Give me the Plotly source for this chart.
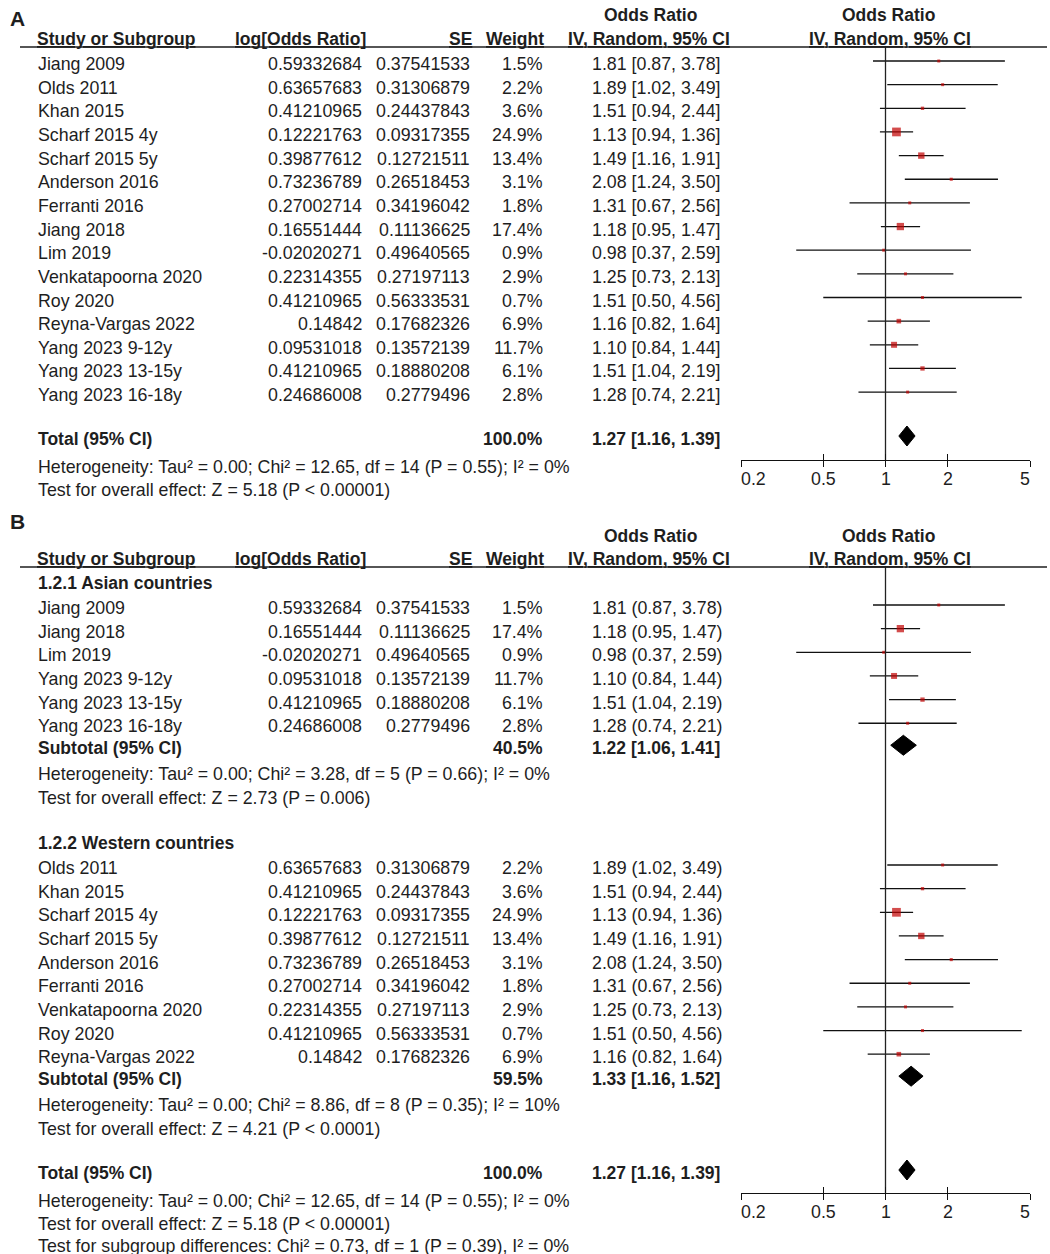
import math
import plotly.graph_objects as go

W, H = 1050, 1254
FONT = "Liberation Sans, Arial, sans-serif"
TXT = "#1e1e1e"
RED = "#C00000"
FS = 17.8

# ---------------- data ----------------
study = ["Jiang 2009", "Olds 2011", "Khan 2015", "Scharf 2015 4y", "Scharf 2015 5y",
         "Anderson 2016", "Ferranti 2016", "Jiang 2018", "Lim 2019", "Venkatapoorna 2020",
         "Roy 2020", "Reyna-Vargas 2022", "Yang 2023 9-12y", "Yang 2023 13-15y", "Yang 2023 16-18y"]
region = ["Asian", "Western", "Western", "Western", "Western",
          "Western", "Western", "Asian", "Asian", "Western",
          "Western", "Western", "Asian", "Asian", "Asian"]
log_or = ["0.59332684", "0.63657683", "0.41210965", "0.12221763", "0.39877612",
          "0.73236789", "0.27002714", "0.16551444", "-0.02020271", "0.22314355",
          "0.41210965", "0.14842", "0.09531018", "0.41210965", "0.24686008"]
se = ["0.37541533", "0.31306879", "0.24437843", "0.09317355", "0.12721511",
      "0.26518453", "0.34196042", "0.11136625", "0.49640565", "0.27197113",
      "0.56333531", "0.17682326", "0.13572139", "0.18880208", "0.2779496"]
weight = [1.5, 2.2, 3.6, 24.9, 13.4, 3.1, 1.8, 17.4, 0.9, 2.9, 0.7, 6.9, 11.7, 6.1, 2.8]
odds = [1.81, 1.89, 1.51, 1.13, 1.49, 2.08, 1.31, 1.18, 0.98, 1.25, 1.51, 1.16, 1.10, 1.51, 1.28]
ci_lo = [0.87, 1.02, 0.94, 0.94, 1.16, 1.24, 0.67, 0.95, 0.37, 0.73, 0.50, 0.82, 0.84, 1.04, 0.74]
ci_hi = [3.78, 3.49, 2.44, 1.36, 1.91, 3.50, 2.56, 1.47, 2.59, 2.13, 4.56, 1.64, 1.44, 2.19, 2.21]

groups = ["Asian", "Western"]
group_titles = ["1.2.1 Asian countries", "1.2.2 Western countries"]
group_weight = ["40.5%", "59.5%"]
group_or = [1.22, 1.33]
group_lo = [1.06, 1.16]
group_hi = [1.41, 1.52]
group_het = ["Heterogeneity: Tau² = 0.00; Chi² = 3.28, df = 5 (P = 0.66); I² = 0%",
             "Heterogeneity: Tau² = 0.00; Chi² = 8.86, df = 8 (P = 0.35); I² = 10%"]
group_test = ["Test for overall effect: Z = 2.73 (P = 0.006)",
              "Test for overall effect: Z = 4.21 (P < 0.0001)"]

total_or, total_lo, total_hi = 1.27, 1.16, 1.39
total_weight = "100.0%"
total_het = "Heterogeneity: Tau² = 0.00; Chi² = 12.65, df = 14 (P = 0.55); I² = 0%"
total_test = "Test for overall effect: Z = 5.18 (P < 0.00001)"
subgroup_test = "Test for subgroup differences: Chi² = 0.73, df = 1 (P = 0.39), I² = 0%"

tick_vals = [0.2, 0.5, 1, 2, 5]
tick_text = ["0.2", "0.5", "1", "2", "5"]

# ---------------- layout helpers ----------------
X_NAME = 38
X_LOGOR = 362
X_SE = 470
X_W = 543
X_CI = 592
AX_L, AX_R = 741, 1030
ROW = 23.65
MARK_DY = -3

fig = go.Figure()
ann = []
shapes = []


def txt(x, y, s, anchor="left", bold=False, size=FS, under=False):
    if under:
        s = "<u>" + s + "</u>"
    if bold:
        s = "<b>" + s + "</b>"
    ann.append(dict(x=x / W, xref="paper", y=y, yref="y", text=s, showarrow=False,
                    xanchor=anchor, yanchor="middle", borderpad=0, borderwidth=0,
                    font=dict(family=FONT, size=size, color=TXT)))


def header(y1, y2):
    txt(650, y1, "Odds Ratio", "center", bold=True, size=17.5)
    txt(888, y1, "Odds Ratio", "center", bold=True, size=17.5)
    txt(37, y2, "Study or Subgroup", "left", True, size=17.5, under=True)
    txt(366, y2, "log[Odds Ratio]", "right", True, size=17.5, under=True)
    txt(472, y2, "SE", "right", True, size=17.5, under=True)
    txt(544, y2, "Weight", "right", True, size=17.5, under=True)
    txt(649, y2, "IV, Random, 95% CI", "center", True, size=17.5, under=True)
    txt(890, y2, "IV, Random, 95% CI", "center", True, size=17.5, under=True)
    shapes.append(dict(type="line", xref="paper", yref="y", x0=20 / W, x1=1047 / W,
                       y0=y2 + 8, y1=y2 + 8, line=dict(color=TXT, width=1.6)))


def study_rows(idx, y0, paren):
    xs, ys = [], []
    for k, i in enumerate(idx):
        y = y0 + k * ROW
        txt(X_NAME, y, study[i])
        txt(X_LOGOR, y, log_or[i], "right")
        txt(X_SE, y, se[i], "right")
        txt(X_W, y, f"{weight[i]:.1f}%", "right")
        if paren:
            txt(X_CI, y, f"{odds[i]:.2f} ({ci_lo[i]:.2f}, {ci_hi[i]:.2f})")
        else:
            txt(X_CI, y, f"{odds[i]:.2f} [{ci_lo[i]:.2f}, {ci_hi[i]:.2f}]")
        xs += [ci_lo[i], ci_hi[i], None]
        ys += [y + MARK_DY, y + MARK_DY, None]
    fig.add_trace(go.Scatter(x=xs, y=ys, mode="lines", line=dict(color="#111111", width=1.3),
                             hoverinfo="skip"))
    fig.add_trace(go.Scatter(x=[odds[i] for i in idx],
                             y=[y0 + k * ROW + MARK_DY for k in range(len(idx))],
                             mode="markers",
                             marker=dict(symbol="square", color=RED,
                                         size=[max(3.0, 1.75 * math.sqrt(weight[i])) for i in idx],
                                         line=dict(width=0)),
                             hoverinfo="skip"))
    return y0 + (len(idx) - 1) * ROW


def diamond(est, lo, hi, y):
    yc = y + MARK_DY
    fig.add_trace(go.Scatter(x=[lo, est, hi, est, lo], y=[yc, yc - 10, yc, yc + 10, yc],
                             mode="lines", fill="toself", fillcolor="black",
                             line=dict(color="black", width=1), hoverinfo="skip"))


def pooled(label, w, est, lo, hi, y):
    txt(X_NAME, y, label, bold=True, size=17.5)
    txt(X_W, y, w, "right", bold=True, size=17.5)
    txt(X_CI, y, f"{est:.2f} [{lo:.2f}, {hi:.2f}]", bold=True, size=17.5)
    diamond(est, lo, hi, y)


def null_line(y0, y1):
    fig.add_trace(go.Scatter(x=[1, 1], y=[y0, y1], mode="lines",
                             line=dict(color="#222222", width=1.3), hoverinfo="skip"))


def tick_labels(y):
    for v, t in zip(tick_vals, tick_text):
        anchor = "left" if v == tick_vals[0] else ("right" if v == tick_vals[-1] else "center")
        ann.append(dict(x=math.log10(v), xref="x", y=y, yref="y", text=t, showarrow=False,
                        xanchor=anchor, yanchor="middle", borderpad=0, borderwidth=0,
                        font=dict(family=FONT, size=FS, color=TXT)))


# ---------------- Panel A ----------------
txt(10, 18, "A", bold=True, size=21)
header(15, 39)
all_idx = list(range(len(study)))
study_rows(all_idx, 64, paren=False)
pooled("Total (95% CI)", total_weight, total_or, total_lo, total_hi, 439)
txt(X_NAME, 467, total_het)
txt(X_NAME, 490, total_test)
AXIS_A = 460
null_line(47, AXIS_A)
tick_labels(AXIS_A + 19)

# ---------------- Panel B ----------------
txt(10, 521, "B", bold=True, size=21)
header(536, 559)
group_start = [583, 843]
for g, gname in enumerate(groups):
    yh = group_start[g]
    txt(X_NAME, yh, group_titles[g], bold=True, size=17.5)
    idx = [i for i in all_idx if region[i] == gname]
    ylast = study_rows(idx, yh + 25, paren=True)
    ysub = ylast + 22
    pooled("Subtotal (95% CI)", group_weight[g], group_or[g], group_lo[g], group_hi[g], ysub)
    txt(X_NAME, ysub + 26, group_het[g])
    txt(X_NAME, ysub + 50, group_test[g])
pooled("Total (95% CI)", total_weight, total_or, total_lo, total_hi, 1173)
txt(X_NAME, 1201, total_het)
txt(X_NAME, 1224, total_test)
txt(X_NAME, 1246, subgroup_test)
AXIS_B = 1193
null_line(567, AXIS_B)
tick_labels(AXIS_B + 19)

# ---------------- axes ----------------
xr = [math.log10(0.2), math.log10(5)]
dom = [AX_L / W, AX_R / W]
base_ax = dict(type="log", range=xr, domain=dom, showgrid=False, zeroline=False,
               tickvals=tick_vals, ticktext=tick_text, tickwidth=1.3, ticklen=6,
               tickcolor="#111111", anchor="free", showticklabels=False, fixedrange=True)
fig.update_layout(
    xaxis=dict(base_ax, position=1 - AXIS_A / H, showline=True, linecolor="#111111",
               linewidth=1.3, ticks="outside"),
    xaxis2=dict(base_ax, overlaying="x", position=1 - AXIS_B / H, showline=True,
                linecolor="#111111", linewidth=1.3, ticks="outside"),
    xaxis3=dict(base_ax, overlaying="x", position=1 - AXIS_A / H, showline=False,
                ticks="inside"),
    xaxis4=dict(base_ax, overlaying="x", position=1 - AXIS_B / H, showline=False,
                ticks="inside"),
    yaxis=dict(range=[H, 0], domain=[0, 1], visible=False, fixedrange=True),
    width=W, height=H, margin=dict(l=0, r=0, t=0, b=0, pad=0, autoexpand=False),
    paper_bgcolor="white", plot_bgcolor="white", showlegend=False,
    annotations=ann, shapes=shapes,
)
for ax in ["x2", "x3", "x4"]:
    fig.add_trace(go.Scatter(x=[1], y=[-100], xaxis=ax, yaxis="y", mode="markers",
                             marker=dict(opacity=0), hoverinfo="skip"))

fig.write_html("out.html", config={"displayModeBar": False},
               post_script="document.body.style.margin='0';")
